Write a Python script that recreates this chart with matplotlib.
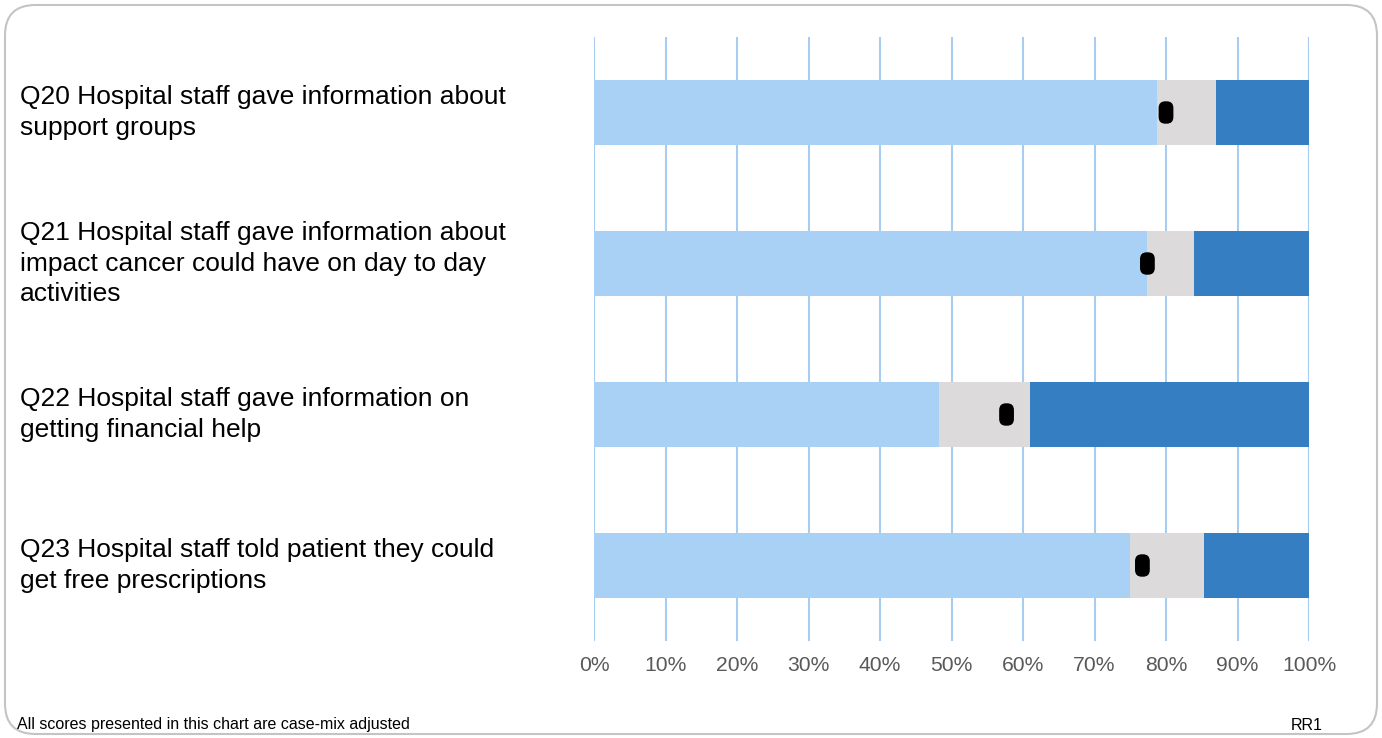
import matplotlib
matplotlib.use("Agg")
import matplotlib.pyplot as plt
import matplotlib.patches as mpatches
import matplotlib.transforms as mtransforms

plt.rcParams['font.family'] = ['Liberation Sans', 'DejaVu Sans']

questions = [
    "Q20 Hospital staff gave information about\nsupport groups",
    "Q21 Hospital staff gave information about\nimpact cancer could have on day to day\nactivities",
    "Q22 Hospital staff gave information on\ngetting financial help",
    "Q23 Hospital staff told patient they could\nget free prescriptions",
]
lower = [78.8, 77.4, 48.3, 75.0]      # light blue segment end
upper = [87.0, 83.9, 61.0, 85.3]      # grey segment end
score = [80.0, 77.4, 57.7, 76.7]      # trust score marker
ticks = list(range(0, 101, 10))
tick_labels = [f"{t}%" for t in ticks]

light = '#A9D0F5'
grey = '#DCDADA'
dark = '#357EC2'
grid = '#A9CDF0'

fig = plt.figure(figsize=(13.82, 7.38), dpi=100)

# rounded frame around the whole chart
frame = mpatches.FancyBboxPatch((5 / 1382, 4 / 738), 1372 / 1382, 729 / 738,
                                boxstyle="round,pad=0,rounding_size=0.022",
                                transform=fig.transFigure, facecolor='none',
                                edgecolor='#C4C4C4', linewidth=1.5,
                                mutation_aspect=1382 / 738, zorder=-1)
fig.patches.append(frame)

ax = fig.add_axes([594 / 1382, 1 - 641 / 738, 715 / 1382, 604 / 738])
ax.set_facecolor('none')

rows = range(len(questions))
h = 0.425
ax.barh(rows, lower, height=h, color=light, zorder=2)
ax.barh(rows, [u - l for u, l in zip(upper, lower)], left=lower, height=h,
        color=grey, zorder=2)
ax.barh(rows, [100 - u for u in upper], left=upper, height=h, color=dark, zorder=2)

# rounded black marker
box = mpatches.FancyBboxPatch((-0.33, -0.5), 0.66, 1.0,
                              boxstyle="round,pad=0,rounding_size=0.3")
ax.scatter(score, rows, marker=box.get_path(), s=260, color='black',
           edgecolors='none', zorder=4)

ax.set_xlim(0, 100)
ax.set_ylim(3.5, -0.5)
ax.set_xticks(ticks)
ax.set_xticklabels(tick_labels, fontsize=15.2, color='#595959')
ax.set_yticks([])
ax.tick_params(axis='x', length=0, pad=11)
ax.grid(axis='x', color=grid, linewidth=1.5, zorder=0)
for s in ax.spines.values():
    s.set_visible(False)

label_tr = mtransforms.blended_transform_factory(fig.transFigure, ax.transData)
for i, q in enumerate(questions):
    ax.text(20 / 1382, i, q, transform=label_tr, ha='left', va='center',
            fontsize=19, color='black', linespacing=1.35)

fig.text(17 / 1382, 1 - 725 / 738, "All scores presented in this chart are case-mix adjusted",
         fontsize=11.5, va='center', ha='left')
fig.text(1323 / 1382, 1 - 725 / 738, "RR1", fontsize=11.5, va='center', ha='right')

fig.savefig("out.png", dpi=100)
